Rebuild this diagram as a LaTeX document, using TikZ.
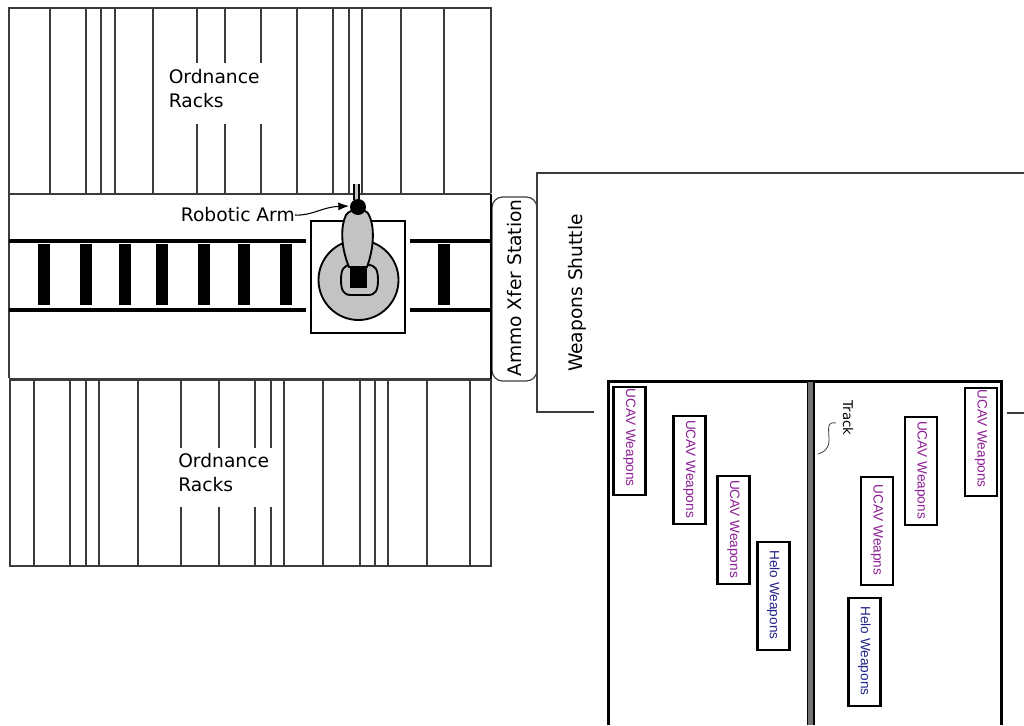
\documentclass[tikz,border=0pt]{standalone}
\usepackage{fontspec}
\usetikzlibrary{arrows.meta}
\setmainfont{DejaVu Sans}
\newfontfamily\boxfont{Liberation Sans}
\definecolor{purp}{RGB}{140,30,150}
\definecolor{helob}{RGB}{35,35,140}
\definecolor{lg}{RGB}{195,195,195}
\definecolor{ln}{RGB}{60,60,60}
\tikzset{
 x=0.75pt,y=-0.75pt,
 thin line/.style={draw=ln,line width=0.9pt},
 thick line/.style={draw=black,line width=1.6pt},
 rail/.style={draw=black,line width=2.6pt},
 tie/.style={fill=black,draw=none},
 arm line/.style={draw=black,line width=1.4pt,fill=lg},
 big label/.style={font=\fontsize{14pt}{18pt}\selectfont,align=left,anchor=north west,inner sep=0pt},
 wbox/.style={draw=black,line width=1.7pt,fill=white,minimum width=81pt,minimum height=24pt,inner sep=0pt,font=\boxfont\fontsize{10.2pt}{12pt}\selectfont,execute at begin node=\hspace*{-1.5pt}},
 ucav/.style={wbox,text=purp},
 helo/.style={wbox,text=helob},
 raised text/.style={execute at begin node=\hspace*{-3.5pt}},
}
\begin{document}
\begin{tikzpicture}
\useasboundingbox (0,0) rectangle (1024,725);
% upper racks
\draw[thin line] (9,193) -- (9,8) -- (491,8) -- (491,193);
\foreach \x in {50,86,101,115,153,297,333,349,362,401,444}
 \draw[thin line] (\x,8) -- (\x,193);
\foreach \x in {197,225,261}{
 \draw[thin line] (\x,8) -- (\x,63);
 \draw[thin line] (\x,124) -- (\x,193);}
% lower racks
\draw[thin line] (10,380) rectangle (491,566);
\foreach \x in {34,70,86,99,138,284,323,360,375,388,427,470}
 \draw[thin line] (\x,380) -- (\x,566);
\foreach \x in {181,219,255,271}{
 \draw[thin line] (\x,380) -- (\x,448);
 \draw[thin line] (\x,507) -- (\x,566);}
% aisle
\draw[thin line] (9,378) -- (9,194) -- (491,194);
\draw[thin line] (9,379) -- (491,379);
% rails
\draw[rail] (9,241) -- (306,241);
\draw[rail] (9,310) -- (306,310);
\draw[rail] (410,241) -- (491,241);
\draw[rail] (410,310) -- (491,310);
\foreach \x in {38,80,119,156,198,238,280,438}
 \fill[tie] (\x,244) rectangle (\x+12,305);
% stand
\draw[thick line,fill=white] (311,221) rectangle (405,333);
\draw[arm line] (358.5,280) circle[radius=40];
% arm
\draw[arm line] (341,280) .. controls (341,269) and (344,265) .. (351,265) -- (368,265) .. controls (375,265) and (378,269) .. (378,280) .. controls (378,291) and (375,295) .. (368,295) -- (351,295) .. controls (344,295) and (341,291) .. (341,280) -- cycle;
\draw[arm line] (349,267) .. controls (340,245) and (341,225) .. (346,215) .. controls (350,208) and (367,208) .. (369,215) .. controls (374,225) and (375,245) .. (367,267) -- cycle;
\fill[black] (350,267) rectangle (367,288);
\fill[lg] (354,184) rectangle (359,200);
\draw[draw=black,line width=1.2pt] (354,184) -- (354,200);
\draw[draw=black,line width=1.2pt] (359,184) -- (359,200);
\fill[black] (358,207) circle[radius=8];
% labels
\node[big label] (upper) at (168.5,69) {Ordnance\\Racks};
\node[big label] (lower) at (178,453) {Ordnance\\Racks};
\node[big label,anchor=east] (arm) at (295,215) {Robotic Arm};
\coordinate (armtip) at (349,206);
\draw[draw=black,line width=0.8pt,-{Latex[length=8pt,width=6pt]}] (arm.east) .. controls (312,216) and (322,207) .. (armtip);
% transfer station
\draw[thin line,fill=white,rounded corners=8pt] (492,197) rectangle (537,381);
\draw[draw=black,line width=1.2pt] (491,194) -- (491,379);
\node[rotate=90,font=\fontsize{14pt}{16pt}\selectfont,inner sep=0pt] (xfer) at (515,288) {Ammo Xfer Station};
% shuttle
\draw[thin line] (1024,173) -- (537,173) -- (537,412) -- (594,412);
\draw[thin line] (1007,413) -- (1024,413);
\node[rotate=90,font=\fontsize{14pt}{16pt}\selectfont,inner sep=0pt] (shuttle) at (577,293) {Weapons Shuttle};
% weapons bays
\draw[draw=black,line width=1.6pt,fill=white] (608.5,725) -- (608.5,381.5) -- (1001.5,381.5) -- (1001.5,725);
\fill[black!55] (807.5,382) rectangle (814,725);
\draw[draw=black,line width=1.2pt] (807.5,382) -- (807.5,725) (814,382) -- (814,725);
% track label
\node[rotate=-90,font=\fontsize{10pt}{12pt}\selectfont,inner sep=0pt] (track) at (848,418) {Track};
\coordinate (trackend) at (818,454);
\draw[draw=ln,line width=0.6pt] (836,423) .. controls (826,421) and (829,430) .. (829,440) .. controls (829,449) and (824,452) .. (trackend);
% boxes
\node[ucav,raised text,rotate=-90] (u1) at (629.5,441) {UCAV Weapons};
\node[ucav,rotate=-90] (u2) at (689.5,470) {UCAV Weapons};
\node[ucav,rotate=-90] (u3) at (733.5,530) {UCAV Weapons};
\node[helo,rotate=-90] (h1) at (773.5,596) {Helo Weapons};
\node[ucav,raised text,rotate=-90] (u4) at (981,442) {UCAV Weapons};
\node[ucav,rotate=-90] (u5) at (921,471) {UCAV Weapons};
\node[ucav,rotate=-90] (u6) at (877,531) {UCAV Weapns};
\node[helo,rotate=-90] (h2) at (864.5,652) {Helo Weapons};
\end{tikzpicture}
\end{document}
